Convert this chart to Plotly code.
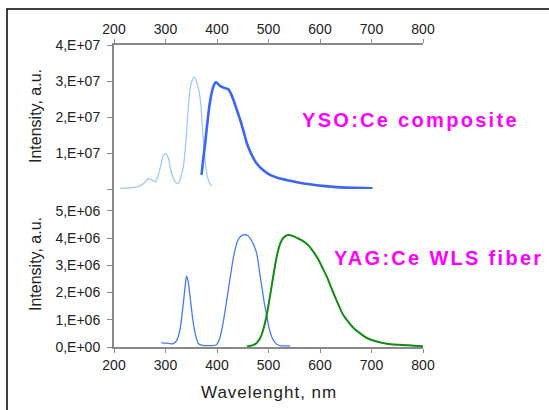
import plotly.graph_objects as go

# ---- data (wavelength nm, intensity a.u.) ----
yso_exc_nm = [212, 230, 247, 258, 267, 274, 280, 285, 290, 295, 300, 305, 310, 315, 320, 325, 330,
              335, 340, 345, 350, 356, 362, 367, 373, 377, 380, 385, 390]
yso_exc_I = [0.2e6, 0.3e6, 0.64e6, 1.6e6, 2.9e6, 2.5e6, 2.0e6, 3.5e6, 6.0e6, 9.0e6, 9.9e6, 8.8e6,
             5.5e6, 3.0e6, 1.8e6, 1.6e6, 3.5e6, 6.5e6, 14e6, 24e6, 29.5e6, 31e6, 29e6, 25.6e6,
             14.5e6, 8e6, 4.4e6, 1.8e6, 0.8e6]

yso_em_nm = [370, 373, 377, 381, 386, 391, 396, 399, 406, 414, 422, 427, 432, 438, 445, 452, 458,
             467, 477, 490, 503, 520, 535, 555, 580, 610, 640, 670, 702]
yso_em_I = [3.9e6, 8e6, 12.7e6, 18e6, 23.8e6, 27.5e6, 29.4e6, 29.6e6, 28.6e6, 28.1e6, 27.7e6,
            26.5e6, 24.7e6, 22.2e6, 19.2e6, 15.8e6, 12.7e6, 9.6e6, 7.1e6, 5.2e6, 3.9e6, 3.0e6,
            2.5e6, 1.9e6, 1.3e6, 0.8e6, 0.45e6, 0.3e6, 0.2e6]

yag_exc_nm = [292, 305, 315, 322, 328, 334, 338, 341, 344, 348, 354, 359, 364, 372, 380, 390, 399,
              405, 412, 419, 426, 432, 440, 447, 454, 458, 462, 470, 477, 483, 487, 492, 497, 501,
              506, 512, 516, 522, 532, 542]
yag_exc_I = [0.15e6, 0.13e6, 0.12e6, 0.25e6, 0.63e6, 1.5e6, 2.2e6, 2.6e6, 2.4e6, 1.8e6, 0.88e6,
             0.4e6, 0.12e6, 0.06e6, 0.05e6, 0.05e6, 0.08e6, 0.3e6, 0.9e6, 1.73e6, 2.6e6, 3.3e6,
             3.9e6, 4.08e6, 4.12e6, 4.11e6, 4.05e6, 3.8e6, 3.44e6, 2.7e6, 2.22e6, 1.6e6, 1.12e6,
             0.7e6, 0.39e6, 0.18e6, 0.1e6, 0.05e6, 0.04e6, 0.03e6]

yag_em_nm = [458, 470, 477, 484, 490, 496, 501, 506, 511, 516, 521, 526, 532, 538, 548, 558, 568,
             577, 587, 597, 605, 613, 621, 629, 637, 645, 655, 665, 678, 691, 710, 730, 755, 781,
             800]
yag_em_I = [0.02e6, 0.07e6, 0.15e6, 0.33e6, 0.65e6, 1.12e6, 1.65e6, 2.22e6, 2.8e6, 3.32e6, 3.7e6,
            3.93e6, 4.06e6, 4.11e6, 4.07e6, 3.98e6, 3.88e6, 3.74e6, 3.5e6, 3.2e6, 2.9e6, 2.59e6,
            2.22e6, 1.85e6, 1.5e6, 1.18e6, 0.92e6, 0.7e6, 0.5e6, 0.33e6, 0.2e6, 0.12e6, 0.08e6,
            0.05e6, 0.03e6]

x_ticks = [200, 300, 400, 500, 600, 700, 800]
top_y_ticks = [0, 1e7, 2e7, 3e7, 4e7]
top_y_labels = ["", "1,E+07", "2,E+07", "3,E+07", "4,E+07"]
bot_y_ticks = [0, 1e6, 2e6, 3e6, 4e6, 5e6]
bot_y_labels = ["0,E+00", "1,E+06", "2,E+06", "3,E+06", "4,E+06", "5,E+06"]

FONT = "Arial, Liberation Sans, sans-serif"
AX_COLOR = "#8a8a8a"
TXT = "#222222"

fig = go.Figure()
fig.add_trace(go.Scatter(x=yso_exc_nm, y=yso_exc_I, xaxis="x2", yaxis="y2", mode="lines",
                         line=dict(color="#9ccbf7", width=1.3, shape="spline", smoothing=0.8),
                         showlegend=False))
fig.add_trace(go.Scatter(x=yso_em_nm, y=yso_em_I, xaxis="x2", yaxis="y2", mode="lines",
                         line=dict(color="#3a66f2", width=2.6, shape="spline", smoothing=0.8),
                         showlegend=False))
fig.add_trace(go.Scatter(x=yag_exc_nm, y=yag_exc_I, xaxis="x", yaxis="y", mode="lines",
                         line=dict(color="#4a78f5", width=1.3, shape="spline", smoothing=0.8),
                         showlegend=False))
fig.add_trace(go.Scatter(x=yag_em_nm, y=yag_em_I, xaxis="x", yaxis="y", mode="lines",
                         line=dict(color="#138a13", width=2.0, shape="spline", smoothing=0.8),
                         showlegend=False))

split = 158 / 302
tickfont = dict(family=FONT, size=14, color=TXT)
common_x = dict(range=[200, 800], tickvals=x_ticks, showgrid=False, zeroline=False,
                showline=True, linecolor=AX_COLOR, linewidth=1.5, ticks="outside",
                ticklen=4, tickcolor=AX_COLOR, tickwidth=1.2, tickfont=tickfont)
common_y = dict(showgrid=False, zeroline=False, showline=True, linecolor=AX_COLOR,
                linewidth=2, ticks="outside", ticklen=5, tickcolor=AX_COLOR, tickwidth=1.2,
                tickfont=tickfont, ticklabelstandoff=4)

fig.update_layout(
    width=549, height=410,
    margin=dict(l=114, r=126, t=45, b=63),
    paper_bgcolor="white", plot_bgcolor="white",
    xaxis=dict(anchor="y", side="bottom", **common_x),
    yaxis=dict(domain=[0, split], range=[0, 5.8e6], tickvals=bot_y_ticks,
               ticktext=bot_y_labels, **common_y),
    xaxis2=dict(anchor="y2", side="top", **common_x),
    yaxis2=dict(domain=[split, 1], range=[0, 4e7], tickvals=top_y_ticks,
                ticktext=top_y_labels, **common_y),
)

def px_x(p):
    return (p - 114) / 309

def px_y(p):
    return (347 - p) / 302

anns = [
    dict(text='<span style="letter-spacing:2.3px">YSO:Ce composite</span>', x=px_x(410), y=px_y(120),
         font=dict(family=FONT, size=20, color="#ff00ff", weight="bold")),
    dict(text='<span style="letter-spacing:2.3px">YAG:Ce WLS fiber</span>', x=px_x(438), y=px_y(258),
         font=dict(family=FONT, size=20, color="#ff00ff", weight="bold")),
    dict(text="Intensity, a.u.", x=px_x(35), y=px_y(116), textangle=-90,
         font=dict(family=FONT, size=16, color=TXT)),
    dict(text="Intensity, a.u.", x=px_x(35), y=px_y(264), textangle=-90,
         font=dict(family=FONT, size=16, color=TXT)),
    dict(text='<span style="letter-spacing:1px">Wavelenght, nm</span>', x=px_x(269), y=px_y(392),
         font=dict(family=FONT, size=17, color=TXT)),
]
for a in anns:
    fig.add_annotation(xref="paper", yref="paper", showarrow=False, xanchor="center",
                       yanchor="middle", **a)

# outer frame of the original figure
fig.add_shape(type="rect", xref="paper", yref="paper",
              x0=px_x(7), x1=px_x(560), y0=px_y(420), y1=px_y(9),
              line=dict(color="black", width=1.5), layer="below")

fig.write_html("out.html")
